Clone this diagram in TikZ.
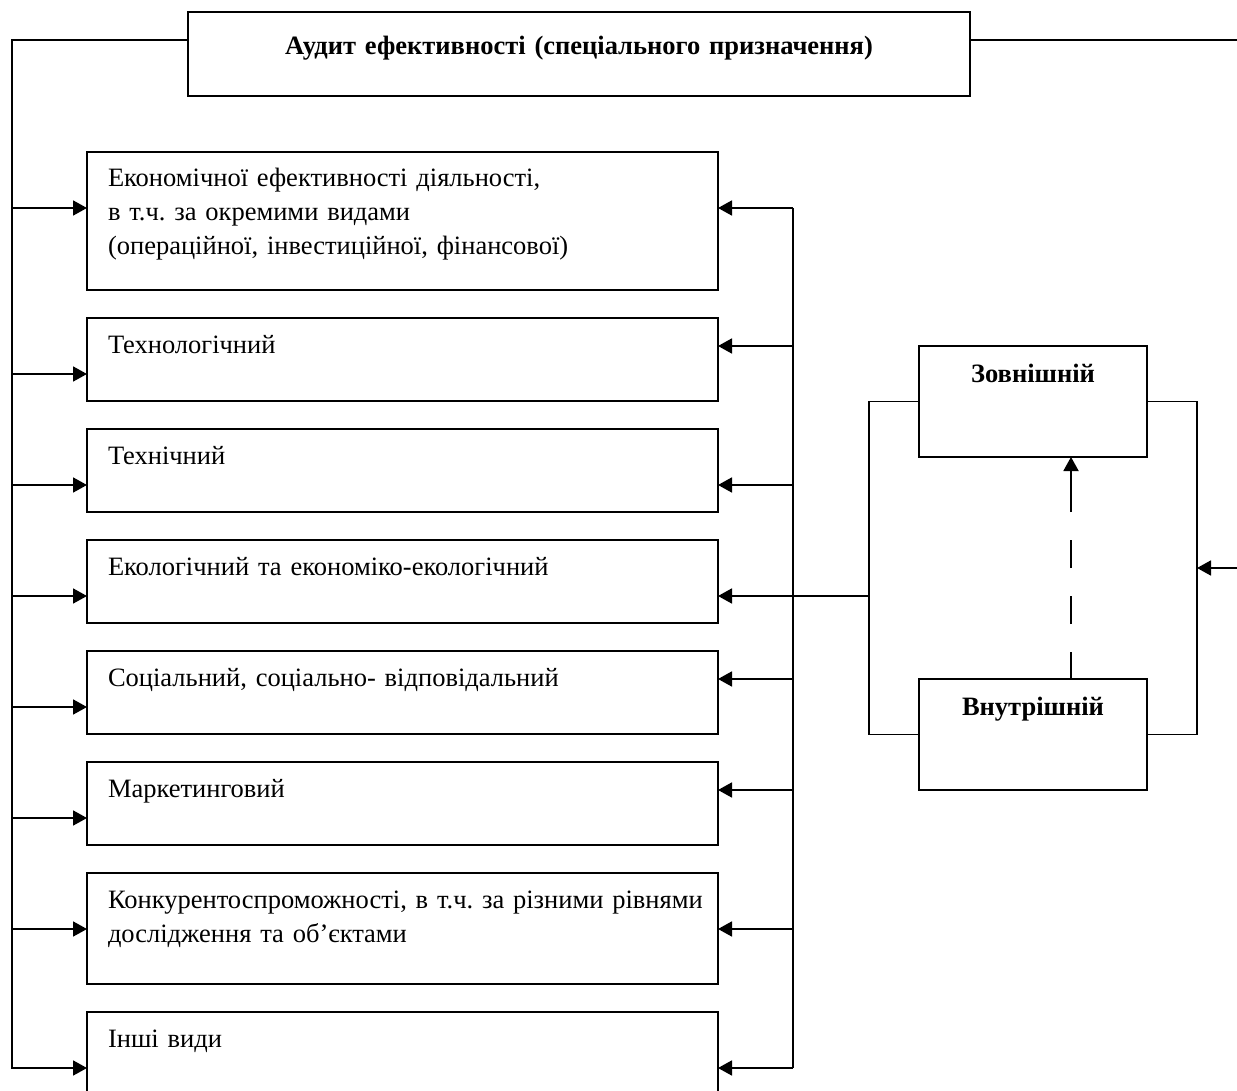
\documentclass[tikz,border=0pt]{standalone}
\usepackage{fontspec}
\setmainfont{Liberation Serif}
\frenchspacing
\usepackage{tikz}
\usetikzlibrary{arrows.meta}
\usetikzlibrary{positioning}
\tikzstyle{head} = [rectangle, draw, minimum width=391pt, text width=370pt,
    align=center, font=\fontsize{13.25}{17}\selectfont\bfseries, outer sep=0pt,
    inner ysep=7.5pt, text height=14pt, text depth=13pt]
\tikzstyle{kind} = [rectangle, draw, text width=294.5pt, align=left, outer sep=0pt,
    inner xsep=10.5pt, inner ysep=7.5pt, text height=10pt, text depth=16.5pt,
    font=\fontsize{13.25}{17}\selectfont]
\tikzstyle{level} = [rectangle, draw, minimum width=114pt, align=center, outer sep=0pt,
    inner ysep=7.5pt, text height=10.5pt, text depth=30pt,
    font=\fontsize{13.25}{17}\selectfont\bfseries]
\tikzstyle{line} = [draw, -{Triangle[length=7pt, width=7.5pt]}]

\begin{document}
\begin{tikzpicture}[x=0.5pt, y=-0.5pt, line width=0.9pt, node distance=14pt]
  \useasboundingbox (0,0) rectangle (1237,1091);

  % Place nodes
  \node [head, anchor=north west] (audit) at (188,12) {Аудит ефективності (спеціального призначення)};
  \node [kind, anchor=north west, text depth=44pt] (econ) at (87,152)
    {Економічної ефективності діяльності,\\ в т.ч. за окремими видами\\ (операційної, інвестиційної, фінансової)};
  \node [kind, below=of econ] (tech) {Технологічний};
  \node [kind, below=of tech] (techn) {Технічний};
  \node [kind, below=of techn] (ecol) {Екологічний та економіко-екологічний};
  \node [kind, below=of ecol] (soc) {Соціальний, соціально- відповідальний};
  \node [kind, below=of soc] (mark) {Маркетинговий};
  \node [kind, below=of mark, text depth=30.5pt] (comp)
    {\makebox[\linewidth][s]{Конкурентоспроможності, в т.ч. за різними рівнями}\\ дослідження та об’єктами};
  \node [kind, below=of comp, text depth=30.5pt] (other) {Інші види};

  \node [level, anchor=north west] (zov) at (919,346) {Зовнішній};
  \node [level, below=111pt of zov] (vnu) {Внутрішній};

  % Bus lines and arrow points
  \coordinate (lbus) at (12,0);
  \coordinate (rbus) at (793,0);
  \coordinate (brl) at (869,0);
  \coordinate (brr) at (1197,0);
  \coordinate (rout) at (1241,0);
  \coordinate (dsh) at (1071,0);
  \coordinate (ra) at (1197,568);
  \foreach \n in {econ,tech,techn,ecol,soc,mark,comp,other}
    \coordinate (l\n) at ([yshift=-28pt]\n.north west);
  \foreach \n/\d in {econ/28pt,tech/14pt,techn/28pt,ecol/28pt,soc/14pt,mark/14pt,comp/28pt,other/28pt}
    \coordinate (r\n) at ([yshift=-\d]\n.north east);

  % Draw edges
  \path [line] ([yshift=7pt]audit.west) -| (lother -| lbus) -- (lother);
  \foreach \n in {econ,tech,techn,ecol,soc,mark,comp}
    \path [line] (l\n -| lbus) -- (l\n);
  \draw (recon -| rbus) -- (rother -| rbus);
  \foreach \n in {econ,tech,techn,ecol,soc,mark,comp,other}
    \path [line] (r\n -| rbus) -- (r\n);
  \draw (recol -| rbus) -- (recol -| brl);
  \draw (zov.west) -- (zov.west -| brl) -- (vnu.west -| brl) -- (vnu.west);
  \draw (zov.east) -- (zov.east -| brr) -- (vnu.east -| brr) -- (vnu.east);
  \path [line] ([yshift=7pt]audit.east) -| (rout |- ra) -- (ra);
  \path [line, dash pattern=on 13.5pt off 14pt on 14pt off 14pt on 14pt off 14pt on 40pt]
    (vnu.north -| dsh) -- (zov.south -| dsh);
\end{tikzpicture}
\end{document}
